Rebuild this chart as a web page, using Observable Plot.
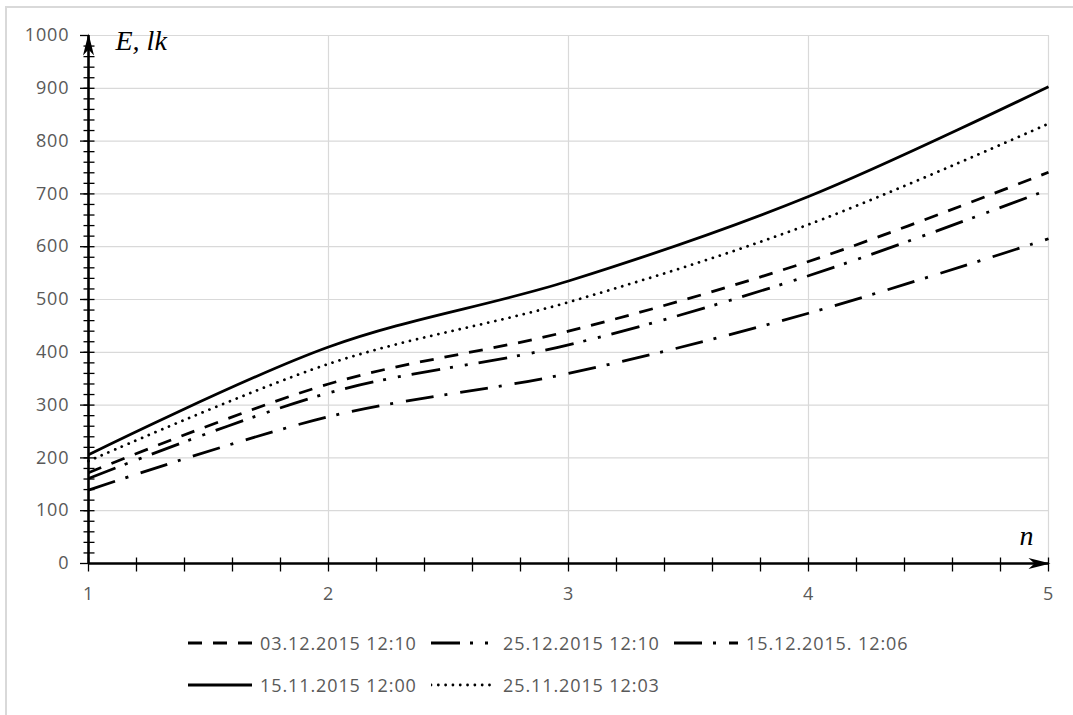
<!DOCTYPE html>
<html><head><meta charset="utf-8">
<script src="https://cdn.jsdelivr.net/npm/d3@7"></script>
<script src="https://cdn.jsdelivr.net/npm/@observablehq/plot@0.6"></script>
<style>
body{margin:0;background:#fff;}
#frame{position:absolute;left:5px;top:6px;width:1200px;height:800px;border-left:2px solid #d9d9d9;border-top:2px solid #d9d9d9;}
#chart{position:absolute;left:0;top:0;}
#chart svg{letter-spacing:0.9px;}
#chart svg g[aria-label="text"]{letter-spacing:0;}
#legend{position:absolute;left:188px;top:0;font-family:"Open Sans";font-size:18px;letter-spacing:0.9px;color:#595959;}
.row{position:absolute;left:0;display:flex;height:22px;align-items:center;white-space:nowrap;}
.item{display:flex;align-items:center;width:243px;}
.item svg{margin-right:8px;flex:none;}
</style></head><body>
<div id="frame"></div>
<div id="chart"></div>
<div id="legend"></div>
<script>
// ---- data ----
const n = [1, 2, 3, 4, 5];
const s03_12 = [172, 340, 440, 572, 741];
const s25_12 = [161, 323, 414, 545, 708];
const s15_12 = [139, 278, 360, 474, 615];
const s15_11 = [206, 410, 535, 695, 903];
const s25_11 = [194, 378, 495, 642, 833];
const seriesNames = ["03.12.2015 12:10", "25.12.2015 12:10", "15.12.2015. 12:06", "15.11.2015 12:00", "25.11.2015 12:03"];
const seriesValues = [s03_12, s25_12, s15_12, s15_11, s25_11];
const xTicks = [1, 2, 3, 4, 5];
const xMinorTicks = [1, 1.2, 1.4, 1.6, 1.8, 2, 2.2, 2.4, 2.6, 2.8, 3, 3.2, 3.4, 3.6, 3.8, 4, 4.2, 4.4, 4.6, 4.8, 5];
const yTicks = [0, 100, 200, 300, 400, 500, 600, 700, 800, 900, 1000];
const yMinorTicks = d3.range(20, 1000, 20);
const yAxisTitle = "E, lk";
const xAxisTitle = "n";

// ---- styles ----
const seriesStyles = [
  {dash: "14,11", cap: "butt"},
  {dash: "29,10,3,12,3,11", cap: "butt"},
  {dash: "28,11,3,13", cap: "butt"},
  {dash: null, cap: "butt"},
  {dash: "0.01,7.3", cap: "round"}
];
const legendRows = [[0, 1, 2], [3, 4]];

// custom symbols
const hTick = {draw(ctx) { ctx.moveTo(-5, 0); ctx.lineTo(6, 0); }};
const vTick = {draw(ctx) { ctx.moveTo(0, -6); ctx.lineTo(0, 8); }};
const stealth = {draw(ctx) { ctx.moveTo(2, 0); ctx.lineTo(-20, -5.5); ctx.lineTo(-14, 0); ctx.lineTo(-20, 5.5); ctx.closePath(); }};

const lineMarks = seriesValues.map((vals, i) =>
  Plot.line(n.map((x, j) => ({x, y: vals[j]})), {
    x: "x", y: "y", curve: "cardinal", tension: 0,
    stroke: "black", strokeWidth: 2.8,
    strokeDasharray: seriesStyles[i].dash, strokeLinecap: seriesStyles[i].cap
  })
);

const chart = Plot.plot({
  width: 1073, height: 615,
  marginLeft: 88, marginRight: 25, marginTop: 35, marginBottom: 52,
  x: {domain: [1, 5]},
  y: {domain: [0, 1000]},
  style: {fontFamily: "Open Sans", fontSize: "18px", background: "transparent"},
  marks: [
    Plot.gridY(yTicks.filter(v => v > 0), {stroke: "#d9d9d9", strokeOpacity: 1, strokeWidth: 1.2}),
    Plot.gridX(xTicks.filter(v => v > 1), {stroke: "#d9d9d9", strokeOpacity: 1, strokeWidth: 1.2}),
    Plot.axisY(yTicks, {tickSize: 8, tickPadding: 11, stroke: "black", strokeWidth: 1.3, fill: "#595959", fontSize: 18, tickFormat: d => String(d), label: null}),
    Plot.axisX(xTicks, {tickSize: 0, tickPadding: 24, fill: "#595959", fontSize: 18, tickFormat: d => String(d), label: null}),
    ...lineMarks,
    Plot.ruleY([0], {x1: 1, x2: 5, stroke: "black", strokeWidth: 2.6}),
    Plot.ruleX([1], {y1: 0, y2: 1000, stroke: "black", strokeWidth: 2.6}),
    Plot.dot(yMinorTicks, {y: d => d, frameAnchor: "left", symbol: hTick, stroke: "black", fill: "none", strokeWidth: 1.3}),
    Plot.dot(xMinorTicks, {x: d => d, frameAnchor: "bottom", symbol: vTick, stroke: "black", fill: "none", strokeWidth: 1.3}),
    Plot.dot([{x: 5, y: 0, angle: 0}, {x: 1, y: 1000, angle: -90}], {x: "x", y: "y", rotate: "angle", symbol: stealth, fill: "black", stroke: "none"}),
    Plot.text([{x: 1, y: 1000, t: yAxisTitle}], {x: "x", y: "y", text: "t", textAnchor: "start", lineAnchor: "middle", dx: 27, dy: 6, fontFamily: "Liberation Serif", fontStyle: "italic", fontSize: 28, fill: "black"}),
    Plot.text([{x: 5, y: 0, t: xAxisTitle}], {x: "x", y: "y", text: "t", textAnchor: "end", lineAnchor: "middle", dx: -15, dy: -27, fontFamily: "Liberation Serif", fontStyle: "italic", fontSize: 28, fill: "black"})
  ]
});
document.getElementById("chart").appendChild(chart);

// ---- legend ----
const legend = document.getElementById("legend");
const rowTops = [632, 674];
legendRows.forEach((row, r) => {
  const div = document.createElement("div");
  div.className = "row";
  div.style.top = rowTops[r] + "px";
  row.forEach(i => {
    const item = document.createElement("div");
    item.className = "item";
    const st = seriesStyles[i];
    item.innerHTML = `<svg width="64" height="22"><line x1="0" x2="64" y1="11" y2="11" stroke="black" stroke-width="2.8" ${st.dash ? `stroke-dasharray="${st.dash}"` : ""} stroke-linecap="${st.cap}"/></svg><span>${seriesNames[i]}</span>`;
    div.appendChild(item);
  });
  legend.appendChild(div);
});
</script>
</body></html>
